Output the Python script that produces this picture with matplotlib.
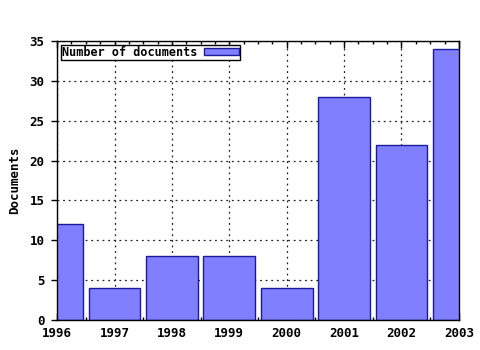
import matplotlib
matplotlib.use("Agg")
import matplotlib.pyplot as plt
from matplotlib.ticker import MultipleLocator

years = [1996, 1997, 1998, 1999, 2000, 2001, 2002, 2003]
docs = [12, 4, 8, 8, 4, 28, 22, 34]

plt.rcParams["font.family"] = "DejaVu Sans Mono"
plt.rcParams["font.weight"] = "bold"
plt.rcParams["font.size"] = 9

fig = plt.figure(figsize=(4.8, 3.5), dpi=100)
ax = fig.add_axes([0.119, 0.0857, 0.837, 0.797])

ax.bar(years, docs, width=0.9, color="#8080ff", edgecolor="#1a1a9a",
       linewidth=1.0, label="Number of documents", zorder=2)

ax.set_xlim(1996, 2003)
ax.set_ylim(0, 35)
ax.xaxis.set_major_locator(MultipleLocator(1))
ax.xaxis.set_minor_locator(MultipleLocator(0.25))
ax.yaxis.set_major_locator(MultipleLocator(5))

ax.grid(True, which="major", linestyle=(0, (1.5, 3)), color="#222222", linewidth=0.9, zorder=0)
ax.set_axisbelow(True)

ax.tick_params(axis="x", which="major", direction="in", top=True, length=5, width=1, pad=5)
ax.tick_params(axis="x", which="minor", direction="in", top=True, length=2.5, width=1)
ax.tick_params(axis="y", which="major", direction="out", length=4, width=1, pad=5)
for s in ax.spines.values():
    s.set_linewidth(1.0)

ax.set_ylabel("Documents", fontweight="bold")
ax.yaxis.set_label_coords(-0.09, 0.5)

leg = ax.legend(loc="upper left", markerfirst=False, fancybox=False,
                framealpha=1, edgecolor="black", borderpad=0.1,
                handlelength=2.9, handleheight=0.5, handletextpad=0.6,
                borderaxespad=0.3,
                prop={"family": "DejaVu Sans Mono", "weight": "bold", "size": 8.5})
leg.get_frame().set_linewidth(1.0)

fig.savefig("out.png", dpi=100)
